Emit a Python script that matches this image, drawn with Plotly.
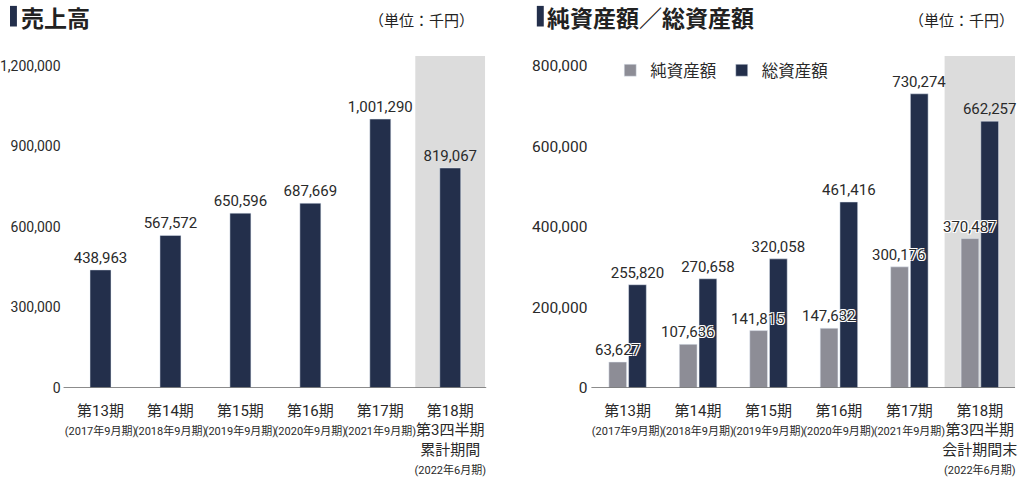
import plotly.graph_objects as go

# ---- data ----
SUB = "<span style='font-size:11px'>{}</span>"
sales_cats = ["c13", "c14", "c15", "c16", "c17", "c18"]
sales_ticktext = [
    "第13期<br>" + SUB.format("(2017年9月期)"),
    "第14期<br>" + SUB.format("(2018年9月期)"),
    "第15期<br>" + SUB.format("(2019年9月期)"),
    "第16期<br>" + SUB.format("(2020年9月期)"),
    "第17期<br>" + SUB.format("(2021年9月期)"),
    "第18期<br>第3四半期<br>累計期間<br>" + SUB.format("(2022年6月期)"),
]
sales = [438963, 567572, 650596, 687669, 1001290, 819067]

asset_cats = ["a13", "a14", "a15", "a16", "a17", "a18"]
asset_ticktext = [
    "第13期<br>" + SUB.format("(2017年9月期)"),
    "第14期<br>" + SUB.format("(2018年9月期)"),
    "第15期<br>" + SUB.format("(2019年9月期)"),
    "第16期<br>" + SUB.format("(2020年9月期)"),
    "第17期<br>" + SUB.format("(2021年9月期)"),
    "第18期<br>第3四半期<br>会計期間末<br>" + SUB.format("(2022年6月期)"),
]
net_assets = [63627, 107636, 141815, 147632, 300176, 370487]
total_assets = [255820, 270658, 320058, 461416, 730274, 662257]

sales_ticks = [0, 300000, 600000, 900000, 1200000]
asset_ticks = [0, 200000, 400000, 600000, 800000]

NAVY = "#232f4b"
GRAY = "#8d8d96"
SHADE = "#dcdcdc"
TXT = "#2a2a2a"
NUMFONT = "Liberation Sans Narrow, Roboto, Noto Sans CJK JP, sans-serif"
CJK = "Noto Sans CJK JP, sans-serif"


def fmt(v):
    return f"{v:,}"


def numfont(size):
    return dict(family=NUMFONT, size=size, color=TXT)


fig = go.Figure()

fig.add_trace(go.Bar(
    x=sales_cats, y=sales, marker_color=NAVY, xaxis="x", yaxis="y",
    text=[fmt(v) for v in sales], textposition="outside", constraintext="none",
    textfont=numfont(15),
    cliponaxis=False, showlegend=False, width=0.3,
))

fig.add_trace(go.Bar(
    x=asset_cats, y=net_assets, marker_color=GRAY, xaxis="x2", yaxis="y2",
    name="純資産額", offsetgroup="n", cliponaxis=False,
))
fig.add_trace(go.Bar(
    x=asset_cats, y=total_assets, marker_color=NAVY, xaxis="x2", yaxis="y2",
    name="総資産額", offsetgroup="t",
    text=[fmt(v) for v in total_assets], textposition="outside", constraintext="none",
    textfont=numfont(15), cliponaxis=False,
))

annotations = []
# net asset labels drawn on top (overlapping navy bars)
for c, v in zip(asset_cats, net_assets):
    f = numfont(15)
    f["shadow"] = "1px 1px 0 #fff, -1px -1px 0 #fff, 1px -1px 0 #fff, -1px 1px 0 #fff"
    annotations.append(dict(
        x=c, y=v, xref="x2", yref="y2", text=fmt(v), showarrow=False,
        xshift=-10, yanchor="bottom", yshift=1, font=f,
    ))

# titles
annotations += [
    dict(x=14/1024, y=1-17.5/484, xref="paper", yref="paper", text="<b>売上高</b>",
         showarrow=False, xanchor="left", yanchor="middle", borderpad=0,
         font=dict(family=CJK, size=23, color="#222")),
    dict(x=474/1024, y=1-20/484, xref="paper", yref="paper", text="（単位：千円）",
         showarrow=False, xanchor="right", yanchor="middle",
         font=dict(family=CJK, size=15, color="#222")),
    dict(x=544/1024, y=1-17.5/484, xref="paper", yref="paper", text="<b>純資産額／総資産額</b>",
         showarrow=False, xanchor="left", yanchor="middle", borderpad=0,
         font=dict(family=CJK, size=23, color="#222")),
    dict(x=1018/1024, y=1-20/484, xref="paper", yref="paper", text="（単位：千円）",
         showarrow=False, xanchor="right", yanchor="middle",
         font=dict(family=CJK, size=15, color="#222")),
]

y0 = (484 - 395) / 484
y1 = (484 - 57) / 484
shapes = [
    dict(type="rect", xref="paper", yref="paper", x0=4/1024, x1=11/1024,
         y0=1-27/484, y1=1-6/484, fillcolor=NAVY, line_width=0),
    dict(type="rect", xref="paper", yref="paper", x0=535/1024, x1=542/1024,
         y0=1-27/484, y1=1-6/484, fillcolor=NAVY, line_width=0),
    dict(type="rect", xref="x", yref="y domain", x0=4.5, x1=5.5, y0=0, y1=1,
         fillcolor=SHADE, line_width=0, layer="below"),
    dict(type="rect", xref="x2", yref="y2 domain", x0=4.5, x1=5.5, y0=0, y1=1,
         fillcolor=SHADE, line_width=0, layer="below"),
    dict(type="line", xref="paper", yref="y", x0=58/1024, x1=484/1024, y0=0, y1=0,
         line=dict(color="#666", width=1.5)),
    dict(type="line", xref="paper", yref="y2", x0=590/1024, x1=1017/1024, y0=0, y1=0,
         line=dict(color="#666", width=1.5)),
]

fig.update_layout(
    width=1024, height=484,
    margin=dict(l=0, r=0, t=0, b=0),
    paper_bgcolor="white", plot_bgcolor="rgba(0,0,0,0)",
    barmode="group", bargap=0.44, bargroupgap=0.1,
    font=dict(family=CJK, color=TXT),
    xaxis=dict(domain=[60/1024, 483/1024], anchor="y", tickangle=0,
               tickmode="array", tickvals=sales_cats, ticktext=sales_ticktext,
               showline=False, ticks="", showgrid=False, ticklabelstandoff=12,
               tickfont=numfont(15)),
    yaxis=dict(domain=[y0, y1], anchor="x", range=[0, 1200000 * 338 / 328],
               tickvals=sales_ticks, ticktext=[fmt(v) for v in sales_ticks],
               showgrid=False, zeroline=False, showline=False, ticks="",
               ticklabelstandoff=4,
               tickfont=numfont(14)),
    xaxis2=dict(domain=[591/1024, 1017/1024], anchor="y2", tickangle=0,
                tickmode="array", tickvals=asset_cats, ticktext=asset_ticktext,
                showline=False, ticks="", showgrid=False, ticklabelstandoff=12,
                tickfont=numfont(15)),
    yaxis2=dict(domain=[y0, y1], anchor="x2", range=[0, 800000 * 338 / 328],
                tickvals=asset_ticks, ticktext=[fmt(v) for v in asset_ticks],
                showgrid=False, zeroline=False, showline=False, ticks="",
                ticklabelstandoff=4,
                tickfont=numfont(15.5)),
    legend=dict(orientation="h", x=609/1024, y=1-54/484, xanchor="left", yanchor="top",
                font=dict(family=CJK, size=16.5, color=TXT), itemwidth=30,
                bgcolor="rgba(0,0,0,0)", traceorder="normal"),
    annotations=annotations,
    shapes=shapes,
)

fig.write_html("out.html")
